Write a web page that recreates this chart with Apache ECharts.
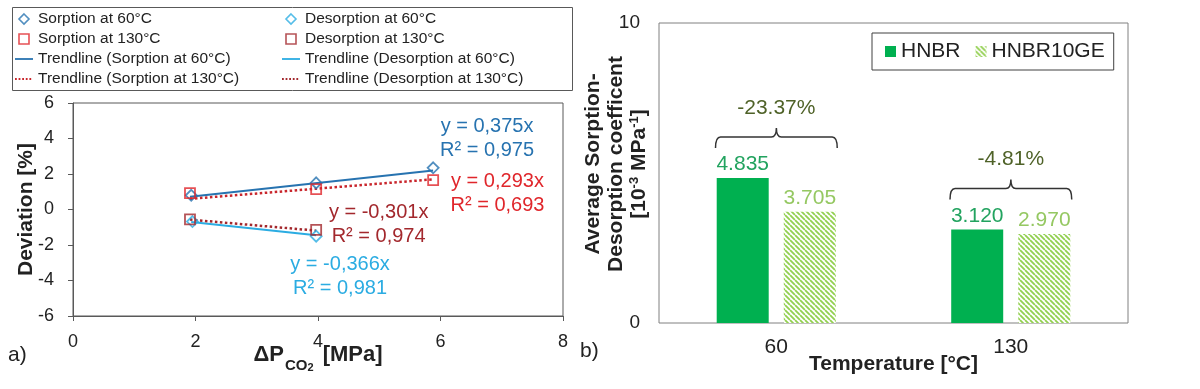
<!DOCTYPE html>
<html><head><meta charset="utf-8">
<script src="https://cdn.jsdelivr.net/npm/echarts@6/dist/echarts.min.js"></script>
<style>html,body{margin:0;padding:0;background:#fff}#c{width:1200px;height:389px}</style>
</head><body><div id="c"></div>
<script>
// ---------- data: panel a) ----------
const sorp60X = [1.93, 3.97, 5.88];
const sorp60Y = [0.80, 1.50, 2.35];
const desorp60X = [1.95, 3.97];
const desorp60Y = [-0.68, -1.50];
const sorp130X = [1.91, 3.97, 5.88];
const sorp130Y = [0.92, 1.15, 1.65];
const desorp130X = [1.91, 3.97];
const desorp130Y = [-0.56, -1.15];
// trendline end points
const trendSorp60 = [[1.91, 0.72], [5.88, 2.20]];
const trendSorp130 = [[1.91, 0.60], [5.88, 1.70]];
const trendDesorp60 = [[1.93, -0.71], [3.97, -1.45]];
const trendDesorp130 = [[1.91, -0.57], [3.97, -1.19]];
const eqSorp60 = ['y = 0,375x', 'R² = 0,975'];
const eqSorp130 = ['y = 0,293x', 'R² = 0,693'];
const eqDesorp60 = ['y = -0,366x', 'R² = 0,981'];
const eqDesorp130 = ['y = -0,301x', 'R² = 0,974'];
// ---------- data: panel b) ----------
const temps = ['60', '130'];
const hnbr = [4.835, 3.120];
const hnbr10ge = [3.705, 2.970];
const pctLabels = ['-23.37%', '-4.81%'];

const FF = '"Liberation Sans", Arial, sans-serif';
const C_S60 = '#2773B0', C_D60 = '#2BACE2', C_S130 = '#E0262B', C_D130 = '#A3282D';
const C_S130T = '#C9262C';
const G1 = '#00B050', G2 = '#92D050';

const ICON_DIAMOND = 'path://M5,0L10,5L5,10L0,5Z';
const ICON_SQUARE = 'path://M0,0L10,0L10,10L0,10Z';
const ICON_SOLID = 'path://M0,0h20v2h-20z';
const ICON_DOTTED = 'path://M0,0h2v2h-2z M4,0h2v2h-2z M8,0h2v2h-2z M12,0h2v2h-2z M16,0h2v2h-2z M20,0h0.01v2h-0.01z';

function zip(xs, ys) { return xs.map((x, i) => [x, ys[i]]); }

// hatch pattern for HNBR10GE
const pc = document.createElement('canvas');
pc.width = 5; pc.height = 5;
const px = pc.getContext('2d');
px.fillStyle = '#fff'; px.fillRect(0, 0, 5, 5);
px.strokeStyle = G2; px.lineWidth = 1.8;
px.beginPath();
for (let k = -1; k <= 1; k++) { px.moveTo(k * 5, 0); px.lineTo(k * 5 + 5, 5); }
px.stroke();
const hatch = { image: pc, repeat: 'repeat' };

const chart = echarts.init(document.getElementById('c'), null, { renderer: 'canvas' });

function scatterSeries(name, xs, ys, sym, col) {
  return {
    name, type: 'scatter', xAxisIndex: 0, yAxisIndex: 0, data: zip(xs, ys),
    symbol: sym, symbolSize: sym === 'diamond' ? 11 : 10,
    itemStyle: { color: 'rgba(255,255,255,0)', borderColor: col, borderWidth: 1.8 },
    z: 5
  };
}
function trendSeries(name, pts, col, type, w) {
  return {
    name, type: 'line', xAxisIndex: 0, yAxisIndex: 0, data: pts, symbol: 'none',
    lineStyle: { color: col, type: type, width: w }, itemStyle: { color: col }, z: 3
  };
}
function mk(name, icon, col) {
  const o = { name, icon };
  if (icon === ICON_SOLID || icon === ICON_DOTTED) o.itemStyle = { color: col, borderWidth: 0 };
  else o.itemStyle = { color: 'rgba(255,255,255,0)', borderColor: col, borderWidth: 1.6 };
  return o;
}

const axisLabelA = { color: '#222', fontSize: 18, fontFamily: FF };
const legText = { fontSize: 15.5, color: '#222', fontFamily: FF, lineHeight: 18 };

chart.setOption({
  animation: false,
  textStyle: { fontFamily: FF },
  grid: [
    { left: 73, top: 103, width: 490, height: 213, show: true, borderColor: '#595959', borderWidth: 1 },
    { left: 659, top: 23, width: 469, height: 300, show: true, borderColor: '#808080', borderWidth: 1 }
  ],
  legend: [
    {
      orient: 'vertical', left: 15, top: 10, padding: 0, itemGap: 2, itemWidth: 18, itemHeight: 10,
      symbolKeepAspect: true, textStyle: legText,
      data: [mk('Sorption at 60°C', ICON_DIAMOND, C_S60), mk('Sorption at 130°C', ICON_SQUARE, C_S130),
        mk('Trendline (Sorption at 60°C)', ICON_SOLID, C_S60), mk('Trendline (Sorption at 130°C)', ICON_DOTTED, C_S130T)]
    },
    {
      orient: 'vertical', left: 282, top: 10, padding: 0, itemGap: 2, itemWidth: 18, itemHeight: 10,
      symbolKeepAspect: true, textStyle: legText,
      data: [mk('Desorption at 60°C', ICON_DIAMOND, C_D60), mk('Desorption at 130°C', ICON_SQUARE, C_D130),
        mk('Trendline (Desorption at 60°C)', ICON_SOLID, C_D60), mk('Trendline (Desorption at 130°C)', ICON_DOTTED, C_D130)]
    },
    {
      orient: 'horizontal', left: 872, top: 33, padding: [8, 9, 8, 13], itemGap: 15, itemWidth: 11, itemHeight: 11,
      borderColor: '#404040', borderWidth: 1,
      textStyle: { fontSize: 21, color: '#222', fontFamily: FF },
      data: [{ name: 'HNBR', icon: 'rect' }, { name: 'HNBR10GE', icon: 'rect' }]
    }
  ],
  xAxis: [
    {
      gridIndex: 0, type: 'value', min: 0, max: 8, interval: 2,
      axisLine: { show: true, onZero: false, lineStyle: { color: '#595959' } },
      axisTick: { show: true, length: 5, lineStyle: { color: '#595959' } },
      splitLine: { show: false },
      axisLabel: Object.assign({ margin: 17 }, axisLabelA),
      name: '{m|ΔP}{s|CO}{t|2}{m| [MPa]}', nameLocation: 'middle', nameGap: 28, nameMoveOverlap: false,
      nameTextStyle: {
        rich: {
          m: { fontSize: 22, fontWeight: 'bold', color: '#222', fontFamily: FF, verticalAlign: 'bottom', padding: [0, 0, 7, 0] },
          s: { fontSize: 15, fontWeight: 'bold', color: '#222', fontFamily: FF, verticalAlign: 'bottom', padding: [0, 0, 0, 1] },
          t: { fontSize: 11, fontWeight: 'bold', color: '#222', fontFamily: FF, verticalAlign: 'bottom', padding: [0, 3, 0, 0] }
        }
      }
    },
    {
      gridIndex: 1, type: 'category', data: temps,
      axisLine: { show: false }, axisTick: { show: false }, splitLine: { show: false },
      axisLabel: { color: '#222', fontSize: 21, fontFamily: FF, margin: 14 },
      name: 'Temperature [°C]', nameLocation: 'middle', nameGap: 31, nameMoveOverlap: false,
      nameTextStyle: { fontSize: 21, fontWeight: 'bold', color: '#222', fontFamily: FF }
    }
  ],
  yAxis: [
    {
      gridIndex: 0, type: 'value', min: -6, max: 6, interval: 2,
      axisLine: { show: true, onZero: false, lineStyle: { color: '#595959' } },
      axisTick: { show: true, length: 5, lineStyle: { color: '#595959' } },
      splitLine: { show: false },
      axisLabel: Object.assign({ margin: 19 }, axisLabelA),
      name: 'Deviation [%]', nameLocation: 'middle', nameGap: 36, nameRotate: 90, nameMoveOverlap: false,
      nameTextStyle: { fontSize: 21, fontWeight: 'bold', color: '#222', fontFamily: FF }
    },
    {
      gridIndex: 1, type: 'value', min: 0, max: 10, interval: 10,
      axisLine: { show: false }, axisTick: { show: false }, splitLine: { show: false },
      axisLabel: { color: '#222', fontSize: 19, fontFamily: FF, margin: 19 },
      name: '{n|Average Sorption-}\n{n|Desorption coefficent}\n{n|[10}{sup|-3}{n| MPa}{sup|-1}{n|]}',
      nameLocation: 'middle', nameGap: 9, nameRotate: 90, nameMoveOverlap: false,
      nameTextStyle: {
        align: 'center', padding: [0, 0, 0, 18],
        rich: {
          n: { fontSize: 21, fontWeight: 'bold', color: '#222', fontFamily: FF, lineHeight: 23, verticalAlign: 'bottom' },
          sup: { fontSize: 13, fontWeight: 'bold', color: '#222', fontFamily: FF, lineHeight: 23, verticalAlign: 'bottom', padding: [0, 0, 9, 0] }
        }
      }
    }
  ],
  series: [
    scatterSeries('Sorption at 60°C', sorp60X, sorp60Y, 'diamond', C_S60),
    scatterSeries('Desorption at 60°C', desorp60X, desorp60Y, 'diamond', C_D60),
    scatterSeries('Sorption at 130°C', sorp130X, sorp130Y, 'rect', C_S130),
    scatterSeries('Desorption at 130°C', desorp130X, desorp130Y, 'rect', C_D130),
    trendSeries('Trendline (Sorption at 60°C)', trendSorp60, C_S60, 'solid', 2),
    trendSeries('Trendline (Desorption at 60°C)', trendDesorp60, C_D60, 'solid', 2),
    trendSeries('Trendline (Sorption at 130°C)', trendSorp130, C_S130T, 'dotted', 2.5),
    trendSeries('Trendline (Desorption at 130°C)', trendDesorp130, C_D130, 'dotted', 2.5),
    {
      name: 'HNBR', type: 'bar', xAxisIndex: 1, yAxisIndex: 1, data: hnbr,
      barWidth: 52, barGap: '29%', itemStyle: { color: G1 },
      label: { show: true, position: 'top', distance: 3, fontSize: 21, color: '#22A35F', fontFamily: FF,
        formatter: p => p.value.toFixed(3) }
    },
    {
      name: 'HNBR10GE', type: 'bar', xAxisIndex: 1, yAxisIndex: 1, data: hnbr10ge,
      barWidth: 52, itemStyle: { color: hatch },
      label: { show: true, position: 'top', distance: 3, fontSize: 21, color: '#95C862', fontFamily: FF,
        formatter: p => p.value.toFixed(3) }
    },
    {
      type: 'custom', xAxisIndex: 1, yAxisIndex: 1, silent: true, z: 10,
      data: temps.map((t, i) => [i, Math.max(hnbr[i], hnbr10ge[i])]),
      renderItem: function (params, api) {
        const p = api.coord([api.value(0), api.value(1)]);
        const bw = api.size([1, 0])[0];
        const x1 = p[0] - bw * 0.259, x2 = p[0] + bw * 0.26, xm = (x1 + x2) / 2;
        const yE = p[1] - 30, yL = p[1] - 41, yN = p[1] - 50, r = 5;
        const d = 'M' + x1 + ' ' + yE + ' Q' + x1 + ' ' + yL + ' ' + (x1 + r) + ' ' + yL +
          ' L' + (xm - r) + ' ' + yL + ' Q' + xm + ' ' + yL + ' ' + xm + ' ' + yN +
          ' Q' + xm + ' ' + yL + ' ' + (xm + r) + ' ' + yL +
          ' L' + (x2 - r) + ' ' + yL + ' Q' + x2 + ' ' + yL + ' ' + x2 + ' ' + yE;
        return {
          type: 'group', children: [
            { type: 'path', shape: { pathData: d }, style: { fill: null, stroke: '#333', lineWidth: 1.5 } },
            { type: 'text', style: { text: pctLabels[params.dataIndex], x: xm, y: p[1] - 70, align: 'center',
              verticalAlign: 'middle', fontSize: 21, fill: '#4F6228', fontFamily: FF } }
          ]
        };
      }
    }
  ]
});

// equation label anchors (data coordinates of panel a)
const eqAnchors = [
  { lines: eqSorp60, at: [6.76, 4.0], color: C_S60 },
  { lines: eqSorp130, at: [6.93, 0.9], color: C_S130 },
  { lines: eqDesorp130, at: [4.99, -0.85], color: C_D130 },
  { lines: eqDesorp60, at: [4.36, -3.76], color: C_D60 }
];
const graphics = [
  { type: 'rect', shape: { x: 12.5, y: 7.5, width: 560, height: 83 }, style: { fill: null, stroke: '#595959', lineWidth: 1 }, z: 0 },
  { type: 'text', left: 8, top: 345, style: { text: 'a)', fontSize: 21, fill: '#222', fontFamily: FF } },
  { type: 'text', left: 580, top: 341, style: { text: 'b)', fontSize: 21, fill: '#222', fontFamily: FF } }
];
eqAnchors.forEach(e => {
  const p = chart.convertToPixel({ gridIndex: 0 }, e.at);
  graphics.push({
    type: 'text', x: p[0], y: p[1],
    style: { text: e.lines.join('\n'), fontSize: 20, lineHeight: 24, fill: e.color, fontFamily: FF,
      align: 'center', verticalAlign: 'middle' }, z: 20
  });
});
chart.setOption({ graphic: graphics });
</script>
</body></html>
